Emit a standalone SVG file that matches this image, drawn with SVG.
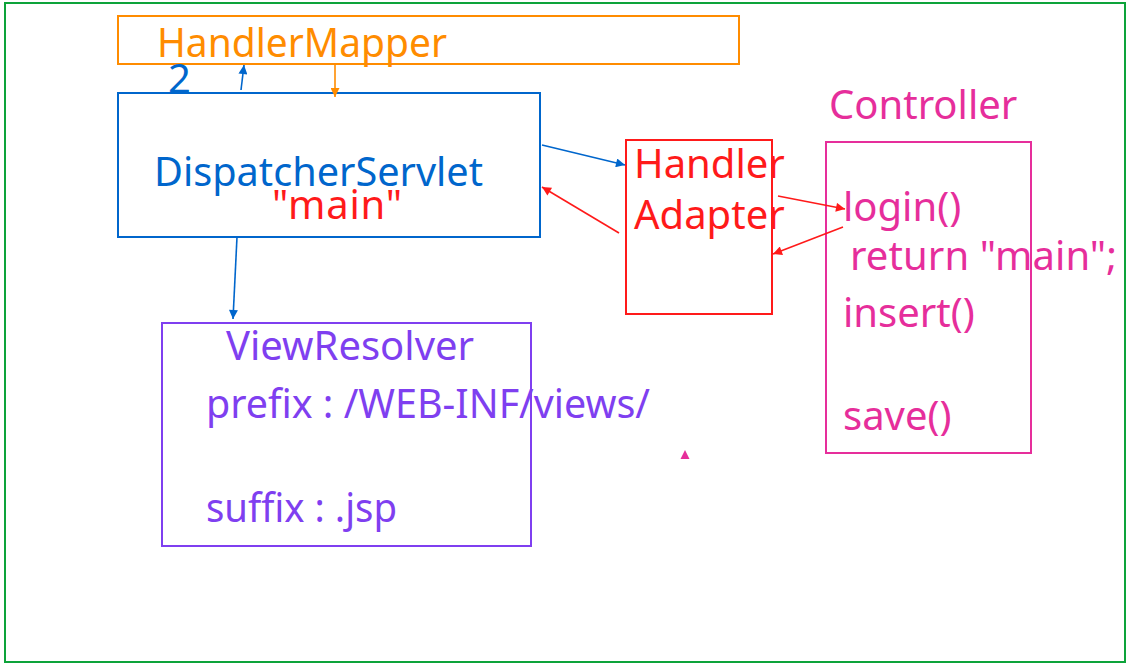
<svg xmlns="http://www.w3.org/2000/svg" width="1128" height="666" viewBox="0 0 1128 666">
<style>
text{font-family:"Noto Sans","DejaVu Sans",sans-serif;font-size:40px}
.box{fill:none;stroke-width:2}
.o{fill:#ff8c00}.b{fill:#0066cc}.r{fill:#ff1a1a}.p{fill:#e62e9b}.v{fill:#7f3ff0}
.ln{fill:none;stroke-width:1.6}
</style>
<defs>
<marker id="ab" viewBox="0 0 10 10" refX="10" refY="5" markerWidth="11" markerHeight="9" markerUnits="userSpaceOnUse" orient="auto"><path d="M0,0L10,5L0,10z" fill="#0066cc"/></marker>
<marker id="ao" viewBox="0 0 10 10" refX="10" refY="5" markerWidth="11" markerHeight="9" markerUnits="userSpaceOnUse" orient="auto"><path d="M0,0L10,5L0,10z" fill="#ff8c00"/></marker>
<marker id="ar" viewBox="0 0 10 10" refX="10" refY="5" markerWidth="11" markerHeight="9" markerUnits="userSpaceOnUse" orient="auto"><path d="M0,0L10,5L0,10z" fill="#ff1a1a"/></marker>
</defs>
<rect x="0" y="0" width="1128" height="666" fill="#fff"/>
<rect x="5" y="3" width="1120" height="659" class="box" stroke="#0da33a"/>
<g id="handlerMapper">
<rect x="118" y="16" width="621" height="48" class="box" stroke="#ff8c00"/>
<text x="157" y="57" class="o" textLength="290" lengthAdjust="spacingAndGlyphs">HandlerMapper</text>
</g>
<g id="dispatcherServlet">
<rect x="118" y="93" width="422" height="144" class="box" stroke="#0066cc"/>
<text x="154" y="186" class="b" textLength="329" lengthAdjust="spacingAndGlyphs">DispatcherServlet</text>
<text x="272" y="219" class="r" textLength="130">"main"</text>
</g>
<g id="handlerAdapter">
<rect x="626" y="140" width="146" height="174" class="box" stroke="#ff1a1a"/>
<text x="634" y="178" class="r">Handler</text>
<text x="634" y="229" class="r">Adapter</text>
</g>
<g id="controller">
<text x="829" y="119" class="p">Controller</text>
<rect x="826" y="142" width="205" height="311" class="box" stroke="#e62e9b"/>
<text x="843" y="221" class="p">login()</text>
<text x="850" y="270" class="p" textLength="267">return "main";</text>
<text x="843" y="327" class="p">insert()</text>
<text x="843" y="430" class="p">save()</text>
</g>
<g id="viewResolver">
<rect x="162" y="323" width="369" height="223" class="box" stroke="#7f3ff0"/>
<text x="226" y="360" class="v">ViewResolver</text>
<text x="206" y="418" class="v" textLength="444" lengthAdjust="spacingAndGlyphs">prefix : /WEB-INF/views/</text>
<text x="206" y="522" class="v" textLength="191" lengthAdjust="spacingAndGlyphs">suffix : .jsp</text>
</g>
<g id="connectors">
<text x="168" y="93" class="b">2</text>
<line x1="241" y1="90" x2="244" y2="65" class="ln" stroke="#0066cc" marker-end="url(#ab)"/>
<line x1="335" y1="65" x2="335" y2="97" class="ln" stroke="#ff8c00" marker-end="url(#ao)"/>
<line x1="542" y1="145" x2="625" y2="165" class="ln" stroke="#0066cc" marker-end="url(#ab)"/>
<line x1="619" y1="233" x2="542" y2="187" class="ln" stroke="#ff1a1a" marker-end="url(#ar)"/>
<line x1="778" y1="196" x2="845" y2="209" class="ln" stroke="#ff1a1a" marker-end="url(#ar)"/>
<line x1="843" y1="227" x2="773" y2="254" class="ln" stroke="#ff1a1a" marker-end="url(#ar)"/>
<line x1="237" y1="237" x2="233" y2="319" class="ln" stroke="#0066cc" marker-end="url(#ab)"/>
<polygon points="685,450 689.5,459 680.5,459" fill="#e62e9b"/>
</g>
</svg>
